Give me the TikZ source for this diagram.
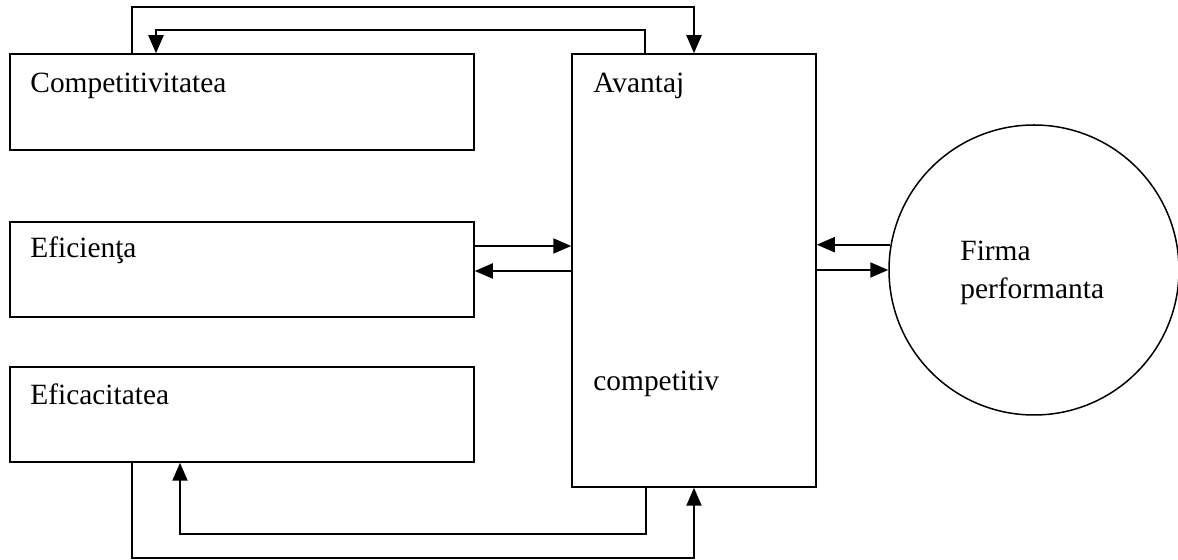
\documentclass[tikz,border=0pt]{standalone}
\usepackage{fontspec}
\setmainfont{Liberation Serif}
\usetikzlibrary{arrows.meta,fit}
\begin{document}
\begin{tikzpicture}[x=0.5pt,y=-0.5pt,
  box/.style={draw,line width=0.75pt,inner sep=0pt},
  lbl/.style={anchor=base west,inner sep=0pt,font=\fontsize{14.7}{17}\selectfont},
  arr/.style={line width=1pt,-{Triangle[length=9pt,width=7.5pt]}}]
\useasboundingbox (0,0) rectangle (1178,560);
% boxes
\node[box,fit={(10,54) (474,150)}] (comp) {};
\node[box,fit={(10,222) (474,317)}] (efi) {};
\node[box,fit={(10,367) (474,462)}] (efc) {};
\node[box,fit={(572,54) (816,487)}] (av) {};
\node[draw,circle,line width=0.75pt,inner sep=0pt,minimum size=145pt] (circ) at (1034,270) {};
% labels
\node[lbl] (tcomp) at (30,93) {Competitivitatea};
\node[lbl] (tefi) at (30,258) {Eficienţa};
\node[lbl] (tefc) at (30,405) {Eficacitatea};
\node[lbl] (tav) at (593,93) {Avantaj};
\node[lbl] (tcp) at (593,391) {competitiv};
\node[lbl] (tfi) at (960,261) {Firma};
\node[lbl] (tpf) at (960,299) {performanta};
% corner coordinates
\coordinate (t1) at (132,7.5);
\coordinate (t2) at (694,7.5);
\coordinate (t3) at (645,30.5);
\coordinate (t4) at (156,30.5);
\coordinate (b1) at (646,534);
\coordinate (b2) at (180,534);
\coordinate (b3) at (132,558);
\coordinate (b4) at (694,558);
\coordinate (m1) at (0,246);
\coordinate (m2) at (0,271);
% top connectors
\draw[arr] (t1 |- comp.north) -- (t1) -- (t2) -- (t2 |- av.north);
\draw[arr] (t3 |- av.north) -- (t3) -- (t4) -- (t4 |- comp.north);
% bottom connectors
\draw[arr] (b1 |- av.south) -- (b1) -- (b2) -- (b2 |- efc.south);
\draw[arr] (b3 |- efc.south) -- (b3) -- (b4) -- (b4 |- av.south);
% middle connectors
\draw[arr] (m1 -| efi.east) -- (m1 -| av.west);
\draw[arr] (m2 -| av.west) -- (m2 -| efi.east);
% right connectors
\draw[arr] (circ.170.5) -- (circ.170.5 -| av.east);
\draw[arr] (av.east |- circ.west) -- (circ.west);
\end{tikzpicture}
\end{document}
